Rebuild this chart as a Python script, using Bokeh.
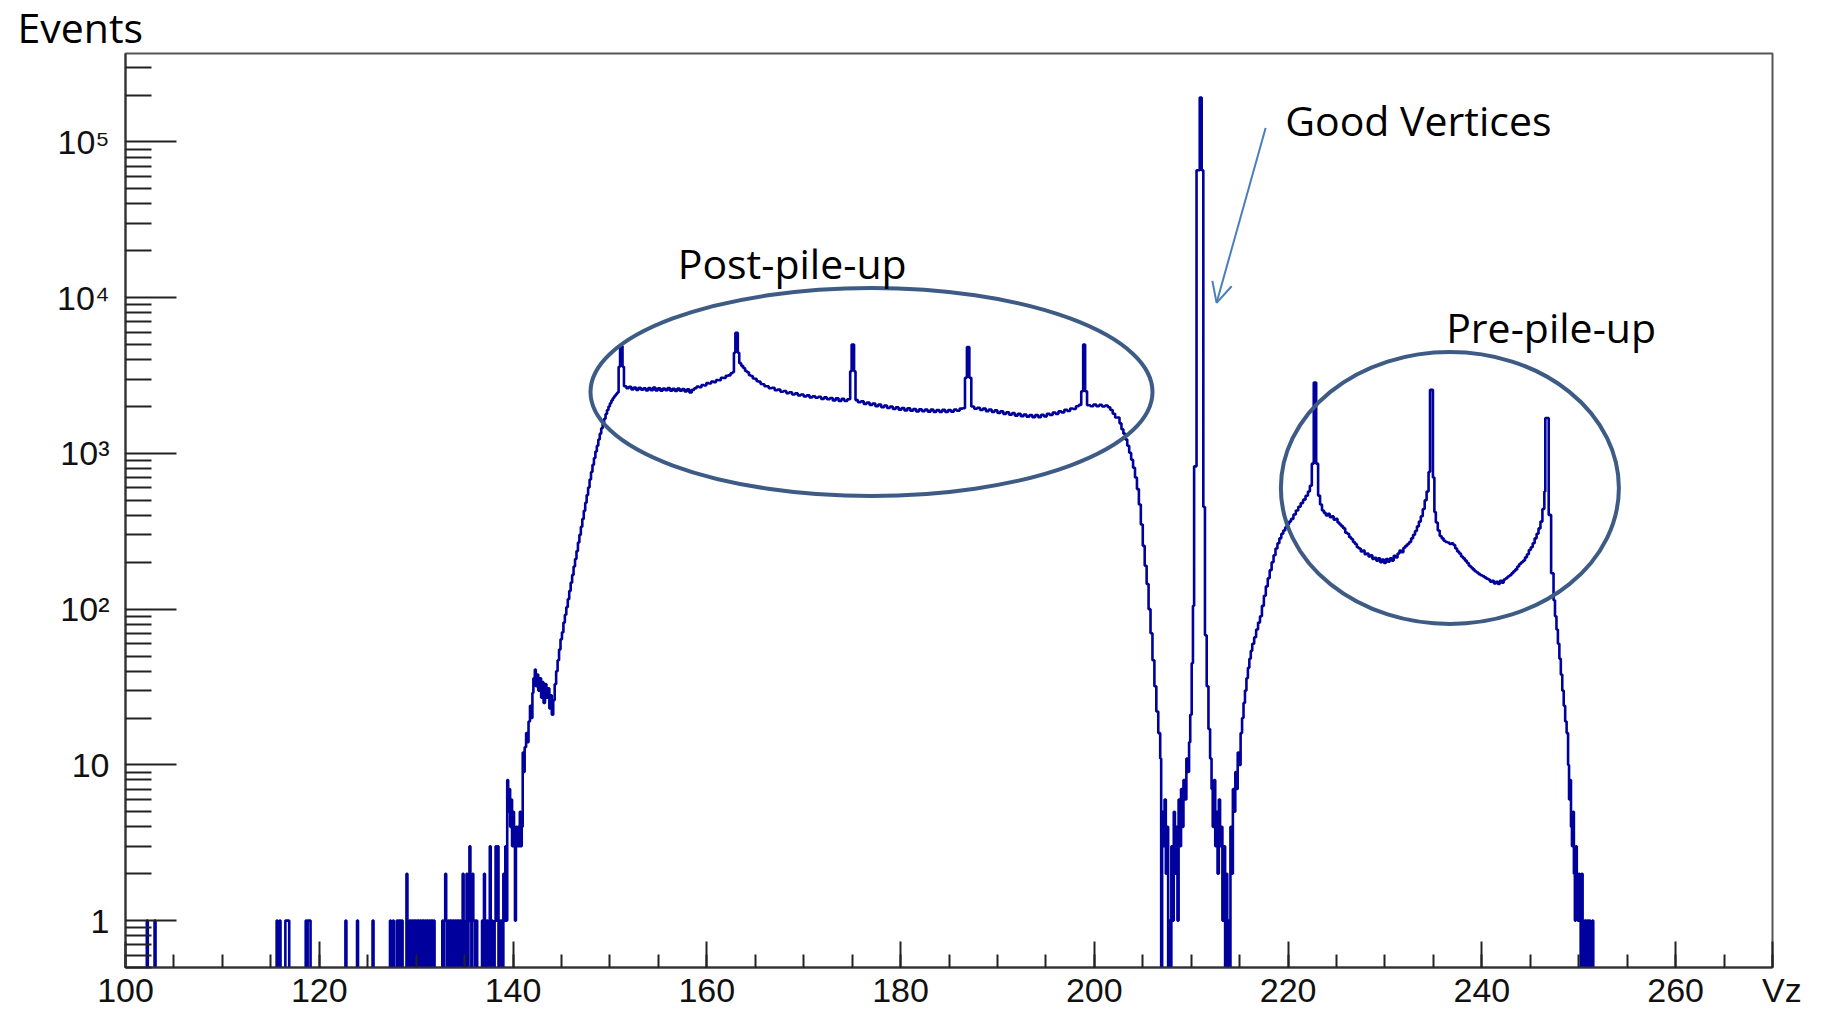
from bokeh.plotting import figure
from bokeh.models import FixedTicker, CustomJSTickFormatter, Label, Arrow, OpenHead
from bokeh.embed import file_html
from bokeh.resources import INLINE

# Sparse far tail, 100.0-141.0: one digit per 0.1-wide bin, ten bins per line
TAIL_START, TAIL_BIN = 100.0, 0.1
tail_counts = (
    "0000000000" "0000000000" "0010000000" "1000000000" "0000000000"   # 100-104
    "0000000000" "0000000000" "0000000000" "0000000000" "0000000000"   # 105-109
    "0000000000" "0000000000" "0000000000" "0000000000" "0000000000"   # 110-114
    "0000001001" "0000011110" "0000000000" "0000001011" "1000000000"   # 115-119
    "0000000000" "0000000000" "0000000100" "0000000001" "0000000000"   # 120-124
    "0000010000" "0000000000" "0001001000" "1011010000" "2101101011"   # 125-129
    "0110101101" "0101011010" "0000000101" "2101011010" "1011010120"   # 130-134
    "0120131021" "1010000010" "2101013010" "0131301010" "2131857463"   # 135-139
    "5314343534"                                                       # 140
)

# Remaining histogram as (left bin edge, events); each count holds until the next edge.
# Rising edge up to the first pile-up peak, 141.0-151.45
edge = [
    (141.0, 12), (141.1, 9), (141.2, 13), (141.35, 16), (141.5, 14), (141.6, 19),
    (141.75, 24), (141.9, 20), (142.0, 29), (142.1, 36), (142.25, 41), (142.35, 32),
    (142.5, 38), (142.6, 30), (142.75, 36), (142.9, 27), (143.0, 34), (143.15, 25),
    (143.3, 33), (143.45, 27), (143.6, 31), (143.75, 23), (143.9, 28), (144.0, 21),
    (144.15, 26), (144.3, 33), (144.45, 40), (144.6, 47), (144.75, 55), (144.9, 64),
    (145.05, 71), (145.2, 82), (145.35, 92), (145.5, 103), (145.65, 116), (145.8, 131),
    (145.95, 148), (146.1, 166), (146.25, 188), (146.4, 210), (146.55, 236), (146.7, 268),
    (146.85, 300), (147.0, 338), (147.15, 380), (147.3, 428), (147.45, 482), (147.6, 540),
    (147.75, 605), (147.9, 680), (148.05, 760), (148.2, 845), (148.35, 935), (148.5, 1030),
    (148.65, 1120), (148.8, 1230), (148.95, 1340), (149.1, 1450), (149.25, 1560),
    (149.4, 1670), (149.55, 1790), (149.7, 1900), (149.85, 2000), (150.0, 2100),
    (150.15, 2190), (150.3, 2270), (150.45, 2340), (150.6, 2400), (150.75, 2460),
    (150.9, 3600), (151.05, 4900), (151.3, 3600),
]

# Post-pile-up plateau with its peaks, 151.45-206.9
post = [
    (151.45, 2700), (151.7, 2620), (151.95, 2680), (152.2, 2580), (152.45, 2650),
    (152.7, 2560), (152.95, 2640), (153.2, 2570), (153.45, 2620), (153.7, 2540),
    (153.95, 2630), (154.2, 2550), (154.45, 2650), (154.7, 2540), (154.95, 2620),
    (155.2, 2530), (155.45, 2610), (155.7, 2550), (155.95, 2630), (156.2, 2530),
    (156.45, 2600), (156.7, 2520), (156.95, 2610), (157.2, 2530), (157.45, 2590),
    (157.7, 2500), (157.95, 2580), (158.2, 2460), (158.45, 2560), (158.7, 2620),
    (158.95, 2690), (159.2, 2660), (159.45, 2750), (159.7, 2730), (159.95, 2830),
    (160.2, 2810), (160.45, 2900), (160.7, 2870), (160.95, 2960), (161.2, 2950),
    (161.45, 3060), (161.7, 3050), (161.95, 3150), (162.2, 3170), (162.45, 3270),
    (162.65, 3320), (162.8, 4430), (162.95, 5950), (163.2, 4430), (163.35, 3800),
    (163.55, 3650), (163.75, 3540), (163.95, 3380), (164.15, 3320), (164.35, 3180),
    (164.55, 3140), (164.75, 3030), (164.95, 3010), (165.15, 2910), (165.35, 2890),
    (165.55, 2790), (165.75, 2780), (165.95, 2700), (166.15, 2700), (166.4, 2620),
    (166.7, 2640), (167.0, 2550), (167.3, 2570), (167.6, 2490), (167.9, 2520),
    (168.2, 2440), (168.5, 2470), (168.8, 2390), (169.1, 2430), (169.4, 2360),
    (169.7, 2390), (170.0, 2320), (170.3, 2360), (170.6, 2290), (170.9, 2330),
    (171.2, 2280), (171.5, 2310), (171.8, 2240), (172.1, 2290), (172.4, 2230),
    (172.7, 2270), (173.0, 2190), (173.3, 2260), (173.6, 2170), (173.9, 2240),
    (174.2, 2170), (174.5, 2230), (174.8, 3370), (174.95, 5000), (175.2, 3370),
    (175.35, 2200), (175.6, 2130), (175.9, 2160), (176.2, 2080), (176.5, 2120),
    (176.8, 2050), (177.1, 2090), (177.4, 2010), (177.7, 2060), (178.0, 1980),
    (178.3, 2030), (178.6, 1960), (178.9, 2000), (179.2, 1930), (179.5, 1980),
    (179.8, 1910), (180.1, 1960), (180.4, 1890), (180.7, 1950), (181.0, 1880),
    (181.3, 1930), (181.6, 1860), (181.9, 1920), (182.2, 1870), (182.5, 1910),
    (182.8, 1855), (183.1, 1910), (183.4, 1850), (183.7, 1900), (184.0, 1850),
    (184.3, 1905), (184.6, 1845), (184.9, 1900), (185.2, 1855), (185.5, 1910),
    (185.8, 1880), (186.1, 1940), (186.4, 1950), (186.65, 3060), (186.85, 4830),
    (187.1, 3060), (187.3, 2000), (187.6, 1935), (187.9, 1965), (188.2, 1900),
    (188.5, 1940), (188.8, 1870), (189.1, 1915), (189.4, 1850), (189.7, 1890),
    (190.0, 1820), (190.3, 1865), (190.6, 1795), (190.9, 1840), (191.2, 1770),
    (191.5, 1815), (191.8, 1750), (192.1, 1795), (192.4, 1735), (192.7, 1780),
    (193.0, 1720), (193.3, 1765), (193.6, 1710), (193.9, 1765), (194.2, 1710),
    (194.5, 1770), (194.8, 1730), (195.1, 1795), (195.4, 1765), (195.7, 1830),
    (196.0, 1795), (196.3, 1865), (196.6, 1835), (196.9, 1905), (197.2, 1875),
    (197.5, 1945), (197.8, 1930), (198.1, 2010), (198.4, 2050), (198.65, 2510),
    (198.85, 5000), (199.05, 2510), (199.25, 2040), (199.6, 2010), (199.9, 2060),
    (200.2, 2010), (200.5, 2050), (200.8, 2000), (201.1, 2030), (201.4, 1980),
    (201.65, 1900), (201.9, 1800), (202.15, 1700), (202.4, 1700), (202.6, 1560),
    (202.8, 1430), (203.0, 1340), (203.2, 1230), (203.4, 1120), (203.6, 1010),
    (203.8, 910), (204.0, 810), (204.2, 700), (204.4, 590), (204.6, 470),
    (204.8, 350), (205.0, 255), (205.2, 190), (205.4, 145), (205.6, 100),
    (205.8, 70), (206.0, 47), (206.2, 32), (206.4, 22), (206.6, 16), (206.8, 11),
]

# Valleys around the good-vertex peak, 206.9-222.45
core = [
    (206.9, 0), (207.0, 5), (207.12, 3), (207.25, 6), (207.38, 2), (207.5, 4),
    (207.62, 0), (207.72, 1), (207.85, 0), (207.95, 3), (208.08, 1), (208.2, 5),
    (208.32, 2), (208.45, 4), (208.58, 1), (208.7, 6), (208.82, 3), (208.95, 7),
    (209.08, 4), (209.2, 8), (209.35, 6), (209.5, 11), (209.65, 9), (209.78, 14),
    (209.9, 21), (210.05, 45), (210.18, 105), (210.3, 826), (210.55, 65800),
    (210.88, 193000), (211.08, 65800), (211.25, 453), (211.42, 68), (211.6, 32),
    (211.78, 17), (211.95, 11), (212.1, 7), (212.22, 4), (212.35, 8), (212.48, 3),
    (212.6, 5), (212.72, 2), (212.85, 6), (212.98, 3), (213.1, 4), (213.22, 1),
    (213.35, 3), (213.5, 0), (213.6, 2), (213.72, 0), (213.85, 1), (213.95, 0),
    (214.05, 4), (214.18, 2), (214.3, 7), (214.42, 5), (214.55, 9), (214.68, 7),
    (214.8, 12), (214.95, 10), (215.1, 16), (215.25, 20), (215.4, 25), (215.55, 30),
    (215.7, 36), (215.85, 42), (216.0, 48), (216.15, 54), (216.3, 60), (216.5, 66),
    (216.7, 74), (216.9, 82), (217.1, 90), (217.3, 105), (217.5, 122), (217.7, 140),
    (217.9, 158), (218.1, 178), (218.3, 200), (218.5, 222), (218.7, 245), (218.9, 265),
    (219.1, 285), (219.3, 305), (219.5, 320), (219.7, 335), (219.9, 350), (220.1, 365),
    (220.3, 380), (220.55, 405), (220.8, 430), (221.05, 455), (221.3, 480),
    (221.55, 505), (221.8, 535), (222.05, 570), (222.25, 620),
]

# Pre-pile-up region and the far edge, 222.45-270
pre = [
    (222.45, 860), (222.65, 2850), (222.9, 860), (223.1, 536), (223.3, 470),
    (223.5, 430), (223.7, 415), (223.9, 400), (224.1, 410), (224.3, 390), (224.5, 395),
    (224.7, 375), (224.9, 380), (225.1, 360), (225.3, 350), (225.5, 340), (225.7, 330),
    (225.9, 310), (226.1, 305), (226.3, 290), (226.5, 282), (226.7, 270), (226.9, 262),
    (227.1, 250), (227.3, 245), (227.5, 235), (227.7, 238), (227.9, 225), (228.1, 228),
    (228.3, 218), (228.5, 222), (228.7, 210), (228.9, 214), (229.1, 205), (229.3, 212),
    (229.5, 200), (229.7, 208), (229.9, 198), (230.1, 210), (230.3, 202), (230.5, 212),
    (230.7, 205), (230.9, 220), (231.1, 215), (231.3, 228), (231.5, 238), (231.7, 232),
    (231.9, 248), (232.1, 255), (232.3, 262), (232.5, 270), (232.7, 285), (232.9, 300),
    (233.1, 318), (233.3, 340), (233.5, 365), (233.7, 395), (233.9, 440), (234.1, 500),
    (234.3, 570), (234.5, 760), (234.65, 2560), (234.95, 700), (235.1, 420),
    (235.25, 360), (235.45, 320), (235.65, 295), (235.85, 285), (236.05, 275),
    (236.25, 270), (236.45, 268), (236.65, 262), (236.85, 265), (237.05, 258),
    (237.25, 245), (237.45, 235), (237.65, 228), (237.85, 218), (238.05, 212),
    (238.25, 205), (238.45, 198), (238.65, 190), (238.85, 185), (239.05, 180),
    (239.25, 175), (239.45, 172), (239.65, 168), (239.85, 165), (240.05, 163),
    (240.25, 160), (240.45, 157), (240.65, 155), (240.85, 150), (241.05, 152),
    (241.25, 146), (241.45, 150), (241.65, 145), (241.85, 152), (242.05, 148),
    (242.25, 155), (242.45, 158), (242.65, 162), (242.85, 165), (243.05, 170),
    (243.25, 175), (243.45, 180), (243.65, 188), (243.85, 195), (244.05, 200),
    (244.25, 205), (244.45, 215), (244.65, 225), (244.85, 240), (245.05, 250),
    (245.25, 265), (245.45, 285), (245.65, 305), (245.85, 330), (246.05, 365),
    (246.25, 440), (246.45, 570), (246.55, 1690), (246.9, 403), (247.15, 170),
    (247.4, 114), (247.55, 90), (247.7, 74), (247.85, 60), (248.0, 48), (248.15, 38),
    (248.3, 30), (248.45, 24), (248.6, 19), (248.75, 16), (248.9, 10), (249.0, 6),
    (249.1, 8), (249.2, 4), (249.3, 3), (249.4, 5), (249.5, 2), (249.6, 1), (249.7, 3),
    (249.8, 2), (249.9, 1), (250.0, 2), (250.1, 1), (250.2, 0), (250.3, 2), (250.4, 1),
    (250.5, 0), (250.6, 1), (250.75, 0), (250.85, 1), (251.0, 0), (251.1, 1), (251.2, 0),
    (251.4, 1), (251.5, 0),
]

VZ_MIN, VZ_MAX = 100.0, 270.0
EVENTS_MIN, EVENTS_MAX = 0.5, 3.7e5

x_major = list(range(100, 261, 20)) + [270]      # 270 carries the axis name
x_minor = list(range(100, 271, 5))
y_major = [1, 10, 100, 1000, 10000, 100000]
y_minor = [k * 10.0 ** e for e in range(-1, 6) for k in range(2, 10)
           if EVENTS_MIN <= k * 10.0 ** e <= EVENTS_MAX]

tail = [(round(TAIL_START + i * TAIL_BIN, 2), int(c)) for i, c in enumerate(tail_counts)]
bins = tail + edge + post + core + pre
vz = [b[0] for b in bins] + [VZ_MAX]
events = [b[1] for b in bins] + [0]
# empty bins drop below the visible floor of the log axis
drawn = [n if n > 0 else 0.05 for n in events]

p = figure(width=1824, height=1017, x_range=(VZ_MIN, VZ_MAX), y_range=(EVENTS_MIN, EVENTS_MAX),
           y_axis_type="log", output_backend="svg", toolbar_location=None,
           min_border_left=125, min_border_right=52, min_border_top=53, min_border_bottom=50)
p.background_fill_color = "white"
p.border_fill_color = "white"
p.grid.visible = False
p.outline_line_color = "#555555"
p.outline_line_width = 2

# y-axis name, set above the frame at the top left
p.title.text = "Events"
p.title.align = "left"
p.title.vertical_align = "top"
p.title.offset = -108
try:
    p.title.standoff = -7
except ValueError:
    p.title.standoff = 0
p.title.text_font = "Open Sans"
p.title.text_font_size = "41px"
p.title.text_font_style = "normal"
p.title.text_color = "black"

p.step(vz, drawn, mode="after", line_color="#00009c", line_width=2.6)

tick_font = "Liberation Sans"
for ax in (p.xaxis[0], p.yaxis[0]):
    ax.axis_line_color = "#333333"
    ax.axis_line_width = 2
    ax.major_tick_line_color = "#222222"
    ax.minor_tick_line_color = "#222222"
    ax.major_tick_line_width = 2
    ax.minor_tick_line_width = 2
    ax.major_tick_out = 0
    ax.minor_tick_out = 0
    ax.major_label_text_font = tick_font
    ax.major_label_text_font_size = "34px"
    ax.major_label_text_color = "#111111"

p.xaxis.ticker = FixedTicker(ticks=x_major, minor_ticks=x_minor)
p.xaxis.major_tick_in = 26
p.xaxis.minor_tick_in = 13
p.xaxis.major_label_standoff = 3
p.xaxis.formatter = CustomJSTickFormatter(code="""
    if (tick >= 270) { return "\u2007Vz"; }
    return String(Math.round(tick));
""")

p.yaxis.ticker = FixedTicker(ticks=y_major, minor_ticks=y_minor)
p.yaxis.major_tick_in = 51
p.yaxis.minor_tick_in = 26
p.yaxis.major_label_standoff = 16
p.yaxis.formatter = CustomJSTickFormatter(code="""
    const sup = ["\u2070", "\u00b9", "\u00b2", "\u00b3", "\u2074", "\u2075", "\u2076"];
    const e = Math.round(Math.log10(tick));
    if (e <= 1) { return String(Math.round(tick)); }
    return "10" + sup[e];
""")

# Annotations
ring_color = "#3d5b85"
p.ellipse(x=[177.0, 236.7], y=[2480, 600], width=[562, 338], height=[208, 272],
          width_units="screen", height_units="screen",
          fill_alpha=0, line_color=ring_color, line_width=4)

p.add_layout(Arrow(end=OpenHead(size=20, line_color="#4a7ebb", line_width=2),
                   x_start=217.68, y_start=1.23e5, x_end=212.62, y_end=9270,
                   line_color="#4a7ebb", line_width=2))

note_font = "Open Sans"
notes = [
    ("Good Vertices", 219.7, 1.394e5),
    ("Post-pile-up", 157.0, 1.661e4),
    ("Pre-pile-up", 236.32, 6460),
]
for text, x, y in notes:
    p.add_layout(Label(x=x, y=y, text=text, text_font=note_font,
                       text_font_size="41px", text_color="black",
                       text_align="left", text_baseline="alphabetic"))

open("out.html", "w").write(file_html(p, INLINE))
